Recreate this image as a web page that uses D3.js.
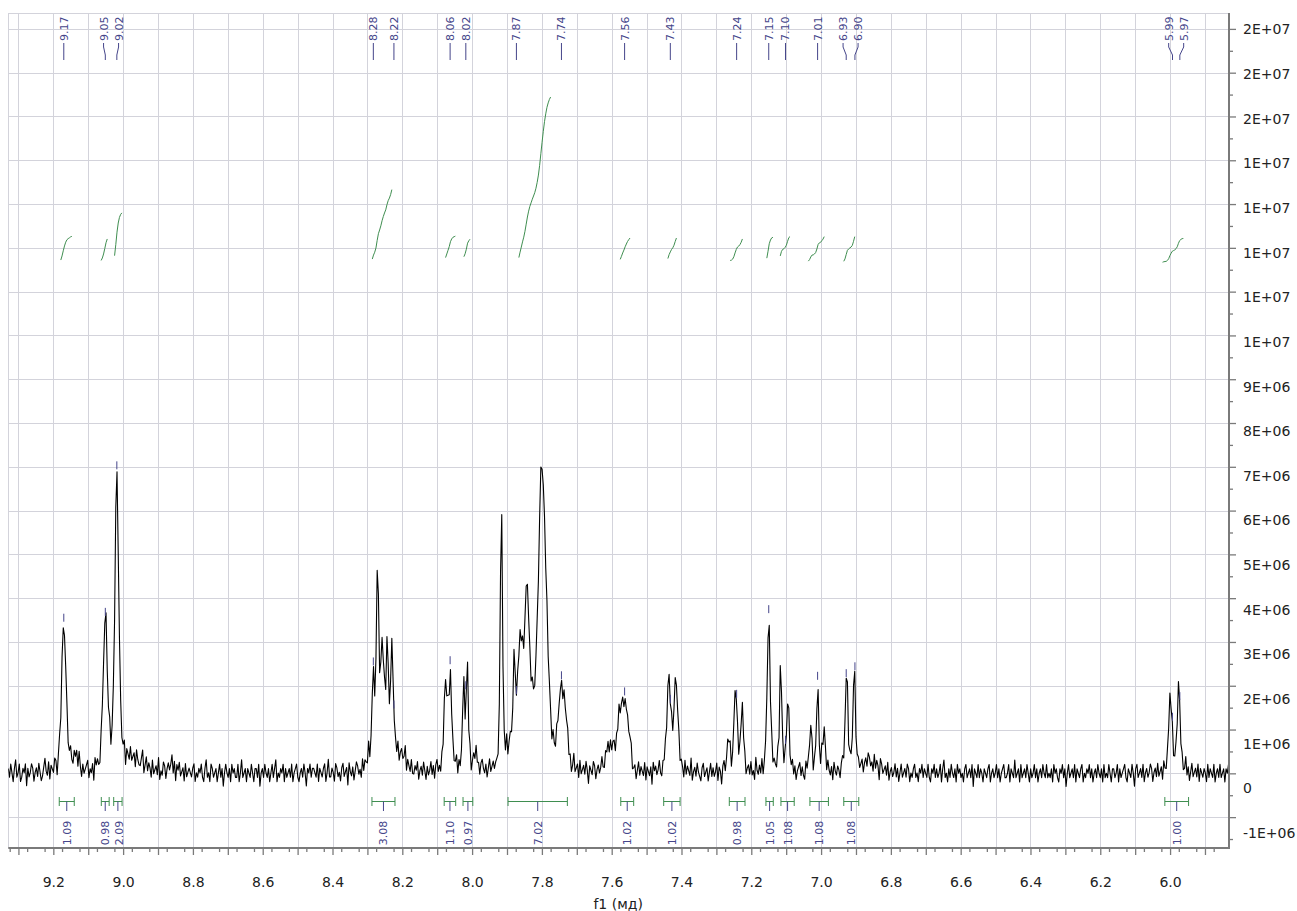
<!DOCTYPE html>
<html><head><meta charset="utf-8">
<script src="https://cdn.jsdelivr.net/npm/d3@7"></script>
<style>
body{margin:0;background:#fff}
svg{display:block}
text{font-family:"DejaVu Sans",sans-serif}
</style>
</head><body>
<svg id="chart" width="1297" height="911"></svg>
<script>
// ---------------- DATA ----------------
const ppmStart = 9.329, ppmStep = 0.0035;           // spectrum sampling grid
const noiseUnit = 0.1;                               // noise values in units of 1e5 (0.1 x 1e6)
const noise = [
1,-1,2,0,-2,1,3,-1,0,2,-2,-1,1,0,2,-3,1,-1,0,2,1,-2,0,1,-1,2,0,-2,-1,1,3,0,-1,2,-2,1,0,-1,2,1,-3,0,1,-2,2,0,-1,1,2,-1,
0,2,-1,-2,1,0,2,-1,3,0,-2,1,-1,0,1,2,-2,0,-1,1,-3,2,0,1,-1,-2,2,1,0,-1,2,-1,0,3,-2,0,1,-1,2,0,-2,1,1,-1,0,2,-3,1,0,-1,
2,-1,0,1,-2,2,0,-1,-1,1,3,-2,0,2,-1,1,0,-2,2,-1,0,1,-1,3,-2,0,-1,2,1,-2,0,1,-1,0,2,-2,1,-3,1,0,2,-1,0,1,-2,2,-1,0,1,0,
-1,1,2,-2,0,-1,1,0,2,-1,-2,1,3,-1,0,-2,2,1,-1,0,1,-2,0,2,-1,1,-3,0,2,0,-1,1,-2,2,0,1,-1,-1,2,-2,0,3,-1,0,1,-2,1,0,-1,2,
0,-2,1,1,-1,2,-3,0,1,-1,2,0,-1,1,-2,0,2,-1,1,3,-2,0,-1,1,0,2,-2,1,-1,0,1,-1,2,-2,0,1,2,-1,-2,0,1,-1,2,0,-3,1,0,2,-1,1,
1,0,-1,2,-2,1,0,-1,1,2,-2,0,3,-1,-1,1,0,-2,2,1,-1,0,-2,1,2,-1,0,1,-3,2,0,-1,1,-2,0,2,1,-1,0,-2,2,-1,1,0,-1,3,-2,0,1,-1,
-2,1,0,2,-1,0,-1,1,2,-3,1,0,-1,2,0,-2,1,1,-1,2,-2,0,1,-1,0,3,-2,1,0,-1,2,-1,-1,1,0,2,-2,0,1,-1,2,0,-2,1,-1,0,2,-1,1,-2,
1,2,-1,0,-2,1,-1,2,0,-1,1,-3,2,0,1,-1,0,2,-2,1,-1,0,1,2,-2,-1,1,0,3,-2,0,1,-1,2,-1,0,-2,1,2,0,-1,1,-2,0,2,-1,0,1,-1,0,
0,-1,2,1,-2,0,1,-1,3,-2,0,1,-1,0,2,-1,-2,1,0,2,-1,1,-3,0,2,1,-1,0,-2,2,0,-1,1,1,-2,0,2,-1,0,1,-1,2,-2,0,1,-1,3,0,-2,1,
-1,0,1,2,-2,1,-1,0,2,-1,1,-2,0,3,-1,0,1,-2,2,-1,0,1,-1,2,0,-3,1,0,-1,2,1,-2,0,1,-1,0,2,-1,-2,1,0,2,-1,1,-2,0,1,-1,2,0,
2,-2,0,1,-1,2,0,-1,-2,1,3,-1,0,1,-2,0,2,-1,1,0,-1,2,-2,1,0,-1,1,-3,2,0,1,-1,0,2,-1,-2,1,0,2,-1,1,0,-2,2,-1,0,1,-1,0,2,
-1,1,0,-2,2,-1,1,0,-1,3,-2,0,1,-1,2,0,-1,-2,1,2,-1,0,1,-2,0,2,-1,1,-1,0,2,-2,1,0,-3,1,2,-1,0,1,-1,2,-2,0,1,0,-1,2,-1,1,
0,2,-1,1,-2,0,1,-1,2,-1,0,-2,3,0,-1,1,-1,2,-2,0,1,1,-1,0,-2,2,-1,1,0,-1,2,-3,1,0,1,-1,2,0,-2,1,-1,0,2,-1,1,-2,0,1,2,-1,
1,-1,-2,2,0,1,-1,0,2,-2,1,0,-1,2,-1,-1,3,-2,0,1,-1,2,0,-1,1,-2,2,0,-1,1,0,-2,1,2,-1,0,-1,2,-2,1,0,-1,1,3,-2,0,1,-1,0,1,
-2,0,1,-1,2,1,-1,0,-2,2,-1,1,0,-3,2,1,-1,0,1,-1,2,-2,0,1,-1,0,2,-1,1,-2,0,2,-1,0,1,-1,2,1,-2,0,-1,1,2,-1,0,-2,1,0,2,-1,
1,0,-1,2,-1,-2,1,0,2,-1,1,-1,0,2,-2,1,3,-1,0,-2,1,-1,2,0,-1,1,-2,2,0,1,-1,0,-2,1,2,-1,0,1,-1,2,-3,1,0,-1,2,-1,1,0,-2,1,
0,-1,1,2,-2,0,1,-1,0,2,-1,1,-2,0,1,2,-1,-1,0,2,-2,1,0,-1,3,-1,0,1,-2,2,-1,0,1,-1,2,0,-2,1,-1,0,2,-1,1,-2,0,1,-1,2,0,-1,
2,-1,0,-1,1,-2,2,0,1,-1,-2,1,0,2,-1,1,-3,0,2,-1,0,1,-1,2,-2,1,0,-1,1,2,-2,0,-1,1,0,2,-1,1,-2,0,1,-1,2,0,-1,1,-2,2,-1,0,
-1,2,0,-2,1,1,-1,0,2,-2,1,-1,0,1,2,-1,-2,1,0,-1,2,0,-3,1,2,-1,0,1,-1,2,-2,0,1,-1,0,2,1,-2,0,1,-1,2,-1,0,1,-2,2,0,-1,1,
0,1,-2,2,-1,0,1,-1,2,0,-2,1,-1,0,3,-1,1,-2,0,2,-1,0,1,-1,2,-2,1,0,-1,1,0,-2,2,-1,1,0,-1,2,-2,0,1,-1,2,-1,0,1,-2,1,0,2
];

// resonances: position (ppm), height (x1e6), half width (ppm), lorentz fraction
const peakPpm    = [9.170,9.140,9.051,9.018,8.975,8.860,
                    8.256,8.283,8.271,8.258,8.243,8.229,8.200,
                    8.076,8.063,8.069,8.024,8.014,7.990,
                    7.916,7.852,7.879,7.862,7.842,7.801,7.789,7.780,7.745,7.733,
                    7.615,7.598,7.577,7.566,7.554,
                    7.436,7.416,7.265,7.245,7.226,
                    7.150,7.116,7.095,7.030,7.010,6.992,6.927,6.905,6.860,
                    5.999,5.975];
const peakHeight = [3.40,0.30,3.50,6.70,0.30,0.20,
                    1.60,1.60,3.50,1.40,1.60,2.30,0.30,
                    1.60,1.70,0.50,1.80,2.40,0.35,
                    6.30,2.30,1.45,0.80,1.95,6.20,1.60,0.80,1.55,0.70,
                    0.30,0.60,1.15,1.15,1.15,
                    2.15,2.10,0.75,1.95,1.35,
                    3.60,2.40,1.80,1.05,1.85,1.05,2.30,2.10,0.25,
                    1.80,1.90];
const peakHwhm   = [0.0075,0.012,0.007,0.0065,0.040,0.012,
                    0.026,0.0035,0.0035,0.0035,0.0035,0.0035,0.015,
                    0.005,0.005,0.012,0.004,0.0035,0.008,
                    0.0035,0.028,0.003,0.006,0.007,0.011,0.008,0.006,0.012,0.008,
                    0.010,0.010,0.007,0.007,0.007,
                    0.0065,0.0065,0.005,0.005,0.005,
                    0.005,0.004,0.004,0.004,0.004,0.004,0.0045,0.0045,0.030,
                    0.0055,0.0055];
const peakLorentz= [0.5,0.5,0.5,0.5,0.3,0.5,
                    0.2,0.5,0.5,0.5,0.5,0.5,0.5,
                    0.5,0.5,0.5,0.5,0.5,0.5,
                    0.5,0.3,0.5,0.5,0.5,0.3,0.5,0.5,0.3,0.5,
                    0.5,0.5,0.3,0.3,0.3,
                    0.5,0.5,0.5,0.5,0.5,
                    0.5,0.5,0.5,0.5,0.5,0.5,0.5,0.5,0.3,
                    0.5,0.5];

// picked peaks (labels on top)
const pickedPpm = [9.170,9.051,9.018,8.283,8.224,8.063,8.018,7.873,7.744,7.563,7.432,7.242,7.150,7.102,7.010,6.928,6.903,5.993,5.972];

// integrals
const intFrom   = [9.183,9.0625,9.027,8.287,8.080,8.026,7.897,7.574,7.451,7.263,7.158,7.115,7.032,6.935,6.015];
const intTo     = [9.140,9.040,9.003,8.221,8.047,7.998,7.727,7.537,7.404,7.218,7.137,7.077,6.979,6.892,5.947];
const intValue  = [1.09,0.98,2.09,3.08,1.10,0.97,7.02,1.02,1.02,0.98,1.05,1.08,1.08,1.08,1.00];
const curveFrom = [9.181,9.063,9.026,8.287,8.078,8.027,7.868,7.579,7.439,7.264,7.158,7.118,7.038,6.937,6.024];
const curveTo   = [9.144,9.043,9.003,8.228,8.047,8.004,7.775,7.545,7.413,7.224,7.138,7.087,6.990,6.903,5.961];

// axes
const xLabelTicks = [9.2,9.0,8.8,8.6,8.4,8.2,8.0,7.8,7.6,7.4,7.2,7.0,6.8,6.6,6.4,6.2,6.0];
const yTickValues = [-1e6,0,1e6,2e6,3e6,4e6,5e6,6e6,7e6,8e6,9e6,1e7,1.1e7,1.2e7,1.3e7,1.4e7,1.5e7,1.6e7,1.7e7];
const xAxisTitle = "f1 (мд)";

// ---------------- BUILD SERIES ----------------
function pv(p, c, h, w, eta){
  const u = (p - c) / w;
  return h * (eta / (1 + u*u) + (1 - eta) * Math.exp(-Math.LN2 * u * u));
}
function model(p){
  let s = 0;
  for (let k = 0; k < peakPpm.length; k++) s += pv(p, peakPpm[k], peakHeight[k], peakHwhm[k], peakLorentz[k]);
  return s;
}
const spectrum = noise.map((n, i) => {
  const p = ppmStart - i * ppmStep;
  return [p, (model(p) + n * noiseUnit) * 1e6];
});
function specAt(p){
  const i = Math.max(0, Math.min(noise.length - 1, Math.round((ppmStart - p) / ppmStep)));
  return Math.max((model(p) + noise[i] * noiseUnit) * 1e6, spectrum[i][1]);
}

// ---------------- LAYOUT ----------------
const svg = d3.select("#chart");
const P = {left: 8.3, right: 1228, top: 13, bottom: 848};
const x = d3.scaleLinear().domain([9.329, 5.834]).range([P.left, P.right]);
const y = d3.scaleLinear().domain([-1.705e6, 1.7363e7]).range([P.bottom, P.top]);
const yLabel = d3.scaleLinear().domain([0, 1.6e7]).range([788.4, 74]);
const integ = d3.scaleLinear().domain([0, 1]).range([262, 238.5]);
const px = v => Math.round(v) + 0.5;

const gridCol = "#d3d3db", axisCol = "#7a7a7a", navy = "#45458a", green = "#3f8e50";

svg.append("rect").attr("width", 1297).attr("height", 911).attr("fill", "#fff");

// grid
const xGridVals = d3.range(0, 35).map(i => +(9.3 - i * 0.1).toFixed(2));
const g = svg.append("g").attr("shape-rendering", "crispEdges");
g.selectAll(".vg").data(xGridVals).join("line")
  .attr("x1", d => px(x(d))).attr("x2", d => px(x(d))).attr("y1", P.top).attr("y2", P.bottom)
  .attr("stroke", gridCol).attr("stroke-width", 1);
g.selectAll(".hg").data(yTickValues).join("line")
  .attr("x1", P.left).attr("x2", P.right).attr("y1", d => px(y(d))).attr("y2", d => px(y(d)))
  .attr("stroke", gridCol).attr("stroke-width", 1);
g.append("line").attr("x1", P.left).attr("x2", P.right).attr("y1", px(P.top)).attr("y2", px(P.top)).attr("stroke", gridCol);
g.append("line").attr("x1", px(P.left)).attr("x2", px(P.left)).attr("y1", P.top).attr("y2", P.bottom).attr("stroke", gridCol);

// clip
svg.append("clipPath").attr("id", "clip").append("rect")
  .attr("x", P.left).attr("y", P.top).attr("width", P.right - P.left).attr("height", P.bottom - P.top);

// spectrum
const line = d3.line().x(d => x(d[0])).y(d => y(d[1]));
svg.append("path").datum(spectrum).attr("clip-path", "url(#clip)")
  .attr("d", line).attr("fill", "none").attr("stroke", "#000").attr("stroke-width", 1.1).attr("stroke-linejoin", "round");

// integral curves
intValue.forEach((v, k) => {
  const pts = spectrum.filter(d => d[0] <= curveFrom[k] && d[0] >= curveTo[k]);
  let cum = 0; const cs = pts.map(d => { cum += d[1]; return [d[0], cum]; });
  const total = cum;
  const lc = d3.line().x(d => x(d[0])).y(d => integ(d[1] / total * v));
  svg.append("path").datum(cs).attr("d", lc).attr("fill", "none").attr("stroke", green).attr("stroke-width", 1);
});

// label spreading
function spread(xs, gap){
  const p = xs.slice();
  for (let it = 0; it < 300; it++){
    let moved = false;
    for (let i = 0; i < p.length - 1; i++){
      const d = gap - (p[i+1] - p[i]);
      if (d > 0.01){ p[i] -= d/2; p[i+1] += d/2; moved = true; }
    }
    if (!moved) break;
  }
  return p;
}

// peak labels
const pkX = pickedPpm.map(p => x(p));
const pkL = spread(pkX, 15);
const pk = svg.append("g");
pickedPpm.forEach((p, i) => {
  pk.append("path").attr("d", `M${pkL[i]},43V47L${pkX[i]},55V60`).attr("fill", "none").attr("stroke", navy).attr("stroke-width", 1);
  pk.append("text").attr("transform", `translate(${pkL[i]},41) rotate(-90)`).attr("dy", "0.36em")
    .attr("font-size", 11).attr("fill", navy).text(p.toFixed(2));
  const yy = y(specAt(p));
  pk.append("line").attr("x1", pkX[i]).attr("x2", pkX[i]).attr("y1", yy - 9).attr("y2", yy - 1)
    .attr("stroke", navy).attr("stroke-width", 1);
});

// integral brackets + labels
const ib = svg.append("g");
const icX = intFrom.map((f, k) => (x(f) + x(intTo[k])) / 2);
const icL = spread(icX, 14);
intValue.forEach((v, k) => {
  const x1 = x(intFrom[k]), x2 = x(intTo[k]);
  ib.append("path").attr("d", `M${x1},801.5H${x2}M${x1},797V806M${x2},797V806`).attr("fill", "none").attr("stroke", green).attr("stroke-width", 1);
  ib.append("line").attr("x1", icX[k]).attr("x2", icX[k]).attr("y1", 801.5).attr("y2", 811).attr("stroke", navy).attr("stroke-width", 1);
  ib.append("text").attr("transform", `translate(${icL[k]},833) rotate(-90)`).attr("dy", "0.36em")
    .attr("text-anchor", "middle").attr("font-size", 11).attr("fill", navy).text(v.toFixed(2));
});

// bottom axis
const xMajor = xGridVals;
const xMinor = d3.range(0, 70).map(i => +(9.325 - i * 0.05).toFixed(3)).filter(d => d <= 9.329 && d >= 5.834 && Math.abs(d*10 - Math.round(d*10)) > 0.01);
const labelSet = new Set(xLabelTicks.map(d => d.toFixed(1)));
const ax = svg.append("g").attr("transform", `translate(0,${P.bottom})`)
  .call(d3.axisBottom(x).tickValues(xMajor).tickSize(7).tickPadding(22)
    .tickFormat(d => labelSet.has(d.toFixed(1)) ? d.toFixed(1) : ""));
ax.select(".domain").attr("stroke", axisCol).attr("stroke-width", 2).attr("d", `M${P.left},0H${P.right + 2}`);
ax.selectAll(".tick line").attr("stroke", axisCol).attr("stroke-width", 1.3);
ax.selectAll("text").attr("font-size", 14).attr("fill", "#222").attr("font-family", "DejaVu Sans");
const axm = svg.append("g").attr("transform", `translate(0,${P.bottom})`)
  .call(d3.axisBottom(x).tickValues(xMinor).tickSize(4).tickFormat(""));
axm.select(".domain").remove();
axm.selectAll(".tick line").attr("stroke", axisCol).attr("stroke-width", 1.3);
svg.append("text").attr("x", (P.left + P.right) / 2).attr("y", 909).attr("text-anchor", "middle")
  .attr("font-size", 14).attr("fill", "#222").text(xAxisTitle);

// right axis
function fmtE(v){
  if (v === 0) return "0";
  const s = v < 0 ? "-" : ""; const a = Math.abs(v);
  let e = Math.floor(Math.log10(a) + 1e-9); let m = Math.round(a / Math.pow(10, e));
  if (m >= 10){ m = 1; e++; }
  return s + m + "E+" + String(e).padStart(2, "0");
}
const ay = svg.append("g").attr("transform", `translate(${P.right + 1},0)`)
  .call(d3.axisRight(y).tickValues(yTickValues).tickSize(7).tickPadding(7).tickFormat(fmtE));
ay.select(".domain").attr("stroke", axisCol).attr("stroke-width", 2).attr("d", `M0,${P.top}V${P.bottom}`);
ay.selectAll(".tick line").attr("stroke", axisCol).attr("stroke-width", 1.3);
ay.selectAll(".tick text").attr("font-size", 14).attr("fill", "#222").attr("font-family", "DejaVu Sans")
  .attr("y", d => yLabel(d) - y(d));
const yMinor = d3.range(-1.5e6, 1.74e7, 1e6);
const aym = svg.append("g").attr("transform", `translate(${P.right + 1},0)`)
  .call(d3.axisRight(y).tickValues(yMinor).tickSize(4).tickFormat(""));
aym.select(".domain").remove();
aym.selectAll(".tick line").attr("stroke", axisCol).attr("stroke-width", 1.3);
</script>
</body></html>
